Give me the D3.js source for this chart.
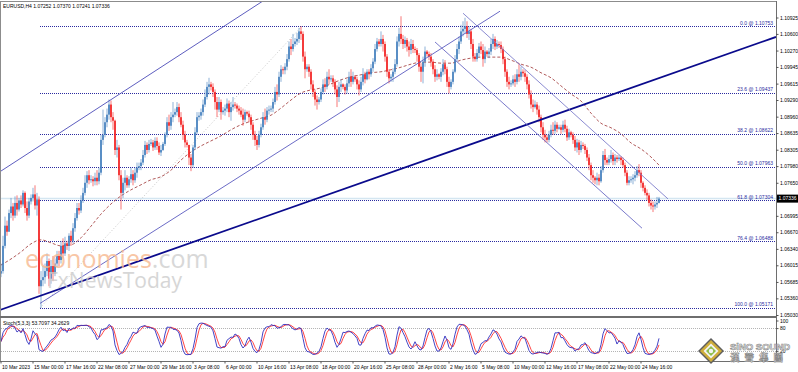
<!DOCTYPE html>
<html>
<head>
<meta charset="utf-8">
<script src="https://cdn.jsdelivr.net/npm/d3@7"></script>
<style>
body { margin: 0; background: #fff; }
svg { display: block; font-family: "Liberation Sans", "DejaVu Sans", sans-serif; }
</style>
</head>
<body>
<svg id="chart" width="798" height="372"></svg>
<script>
/* SECTION: data */

// EURUSD H4, first bar 10 Mar 2023 08:00 ; open of each bar = previous close
var firstOpen = 1.0585;
var closes = [
  1.0590,1.0640,1.0680,1.0668,
  1.0705,1.0718,1.0700,1.0725,1.0712,1.0730,
  1.0722,1.0745,1.0715,1.0700,1.0728,1.0735,
  1.0742,1.0720,1.0732,1.0560,1.0572,1.0578,
  1.0590,1.0610,1.0575,1.0600,1.0585,1.0605,
  1.0620,1.0612,1.0640,1.0625,1.0645,1.0640,
  1.0660,1.0650,1.0675,1.0695,1.0715,1.0710,
  1.0730,1.0745,1.0765,1.0780,1.0770,1.0772,
  1.0768,1.0775,1.0768,1.0785,1.0850,1.0860,
  1.0885,1.0900,1.0920,1.0895,1.0888,1.0830,
  1.0835,1.0780,1.0745,1.0765,1.0775,1.0760,
  1.0772,1.0782,1.0770,1.0785,1.0795,1.0798,
  1.0805,1.0820,1.0840,1.0830,1.0842,1.0845,
  1.0835,1.0848,1.0838,1.0825,1.0830,1.0842,
  1.0860,1.0885,1.0878,1.0895,1.0900,1.0905,
  1.0915,1.0895,1.0880,1.0860,1.0845,1.0840,
  1.0815,1.0800,1.0835,1.0865,1.0895,1.0898,
  1.0905,1.0920,1.0935,1.0955,1.0960,1.0955,
  1.0945,1.0925,1.0910,1.0925,1.0905,1.0908,
  1.0912,1.0922,1.0905,1.0915,1.0920,1.0918,
  1.0912,1.0908,1.0900,1.0890,1.0905,1.0902,
  1.0895,1.0880,1.0860,1.0850,1.0840,1.0860,
  1.0875,1.0895,1.0890,1.0908,1.0910,1.0912,
  1.0925,1.0945,1.0940,1.0975,1.0990,1.0988,
  1.0995,1.1010,1.1035,1.1030,1.1040,1.1045,
  1.1050,1.1065,1.1060,1.1015,1.0990,1.0995,
  1.0985,1.0960,1.0945,1.0930,1.0925,1.0930,
  1.0945,1.0960,1.0955,1.0975,1.0970,1.0972,
  1.0965,1.0950,1.0935,1.0955,1.0960,1.0955,
  1.0948,1.0962,1.0975,1.0965,1.0975,1.0970,
  1.0960,1.0950,1.0965,1.0980,1.0970,1.0985,
  1.0980,1.0992,1.1005,1.1030,1.1045,1.1040,
  1.1050,1.1040,1.1015,1.0985,1.0972,1.0975,
  1.0985,1.1000,1.1045,1.1060,1.1050,1.1040,
  1.1048,1.1035,1.1028,1.1040,1.1030,1.1028,
  1.1018,1.0995,1.0985,1.1005,1.1025,1.1020,
  1.1015,1.1005,1.0990,1.0975,1.0980,1.0975,
  1.0985,1.1000,1.0990,1.0965,1.0955,1.0965,
  1.0985,1.1010,1.1030,1.1045,1.1065,1.1070,
  1.1075,1.1060,1.1065,1.1040,1.1015,1.1010,
  1.1022,1.1035,1.1028,1.1010,1.1025,1.1020,
  1.1025,1.1040,1.1050,1.1035,1.1040,1.1038,
  1.1030,1.1010,1.0985,1.0965,1.0960,1.0962,
  1.0970,1.0965,1.0980,1.0975,1.0985,1.0982,
  1.0975,1.0960,1.0940,1.0920,1.0915,1.0920,
  1.0910,1.0895,1.0875,1.0860,1.0855,1.0850,
  1.0860,1.0870,1.0868,1.0880,1.0872,1.0875,
  1.0870,1.0880,1.0872,1.0855,1.0865,1.0860,
  1.0850,1.0835,1.0845,1.0830,1.0840,1.0838,
  1.0830,1.0815,1.0800,1.0780,1.0775,1.0770,
  1.0775,1.0768,1.0790,1.0820,1.0810,1.0805,
  1.0812,1.0820,1.0808,1.0815,1.0812,1.0815,
  1.0810,1.0800,1.0785,1.0765,1.0770,1.0772,
  1.0775,1.0780,1.0790,1.0785,1.0765,1.0755,
  1.0745,1.0740,1.0725,1.0720,1.0718,1.0722,
  1.07252,1.07336
];
var highs = [
  1.0605,1.0660,1.0698,1.0690,
  1.0712,1.0735,1.0725,1.0738,1.0740,1.0735,
  1.0740,1.0750,1.0748,1.0728,1.0735,1.0742,
  1.0755,1.0760,1.0745,1.0738,1.0590,1.0600,
  1.0605,1.0625,1.0615,1.0612,1.0620,1.0615,
  1.0630,1.0630,1.0650,1.0655,1.0658,1.0650,
  1.0665,1.0670,1.0685,1.0705,1.0725,1.0725,
  1.0740,1.0755,1.0780,1.0788,1.0790,1.0780,
  1.0778,1.0785,1.0790,1.0795,1.0860,1.0910,
  1.0895,1.0912,1.0930,1.0928,1.0905,1.0890,
  1.0850,1.0840,1.0790,1.0775,1.0790,1.0780,
  1.0778,1.0795,1.0790,1.0795,1.0805,1.0805,
  1.0812,1.0830,1.0848,1.0845,1.0850,1.0852,
  1.0850,1.0855,1.0855,1.0845,1.0840,1.0846,
  1.0865,1.0895,1.0900,1.0905,1.0925,1.0912,
  1.0925,1.0922,1.0905,1.0888,1.0868,1.0850,
  1.0835,1.0822,1.0840,1.0875,1.0905,1.0905,
  1.0912,1.0930,1.0950,1.0965,1.0973,1.0965,
  1.0962,1.0950,1.0935,1.0935,1.0930,1.0915,
  1.0920,1.0932,1.0928,1.0925,1.0935,1.0925,
  1.0922,1.0918,1.0915,1.0912,1.0910,1.0908,
  1.0908,1.0900,1.0885,1.0868,1.0858,1.0868,
  1.0882,1.0905,1.0912,1.0915,1.0918,1.0918,
  1.0932,1.0955,1.0960,1.0985,1.0998,1.0995,
  1.1002,1.1020,1.1045,1.1050,1.1060,1.1052,
  1.1062,1.1072,1.1075,1.1065,1.1025,1.1000,
  1.1000,1.0990,1.0968,1.0950,1.0938,1.0935,
  1.0952,1.0970,1.0972,1.0985,1.0990,1.0978,
  1.0978,1.0970,1.0958,1.0965,1.0970,1.0962,
  1.0960,1.0970,1.0985,1.0990,1.0985,1.0978,
  1.0975,1.0968,1.0975,1.0992,1.0985,1.0990,
  1.0990,1.1000,1.1012,1.1040,1.1052,1.1050,
  1.1065,1.1058,1.1045,1.1020,1.0990,1.0980,
  1.0992,1.1010,1.1055,1.1072,1.1095,1.1058,
  1.1055,1.1052,1.1045,1.1050,1.1048,1.1035,
  1.1032,1.1022,1.1002,1.1015,1.1035,1.1028,
  1.1025,1.1022,1.1010,1.0998,1.0990,1.0982,
  1.0992,1.1010,1.1008,1.0995,1.0975,1.0970,
  1.0990,1.1018,1.1040,1.1055,1.1078,1.1085,
  1.1092,1.1085,1.1075,1.1070,1.1050,1.1022,
  1.1030,1.1042,1.1045,1.1040,1.1035,1.1028,
  1.1032,1.1050,1.1060,1.1055,1.1048,1.1045,
  1.1045,1.1035,1.1015,1.0990,1.0975,1.0968,
  1.0978,1.0980,1.0990,1.1002,1.0995,1.0990,
  1.0988,1.0980,1.0968,1.0948,1.0930,1.0928,
  1.0925,1.0918,1.0900,1.0885,1.0870,1.0860,
  1.0868,1.0880,1.0885,1.0888,1.0885,1.0880,
  1.0880,1.0888,1.0890,1.0878,1.0872,1.0868,
  1.0865,1.0858,1.0852,1.0850,1.0848,1.0845,
  1.0842,1.0835,1.0822,1.0805,1.0790,1.0778,
  1.0785,1.0782,1.0798,1.0828,1.0832,1.0815,
  1.0820,1.0830,1.0825,1.0822,1.0820,1.0820,
  1.0818,1.0815,1.0805,1.0790,1.0778,1.0778,
  1.0782,1.0788,1.0798,1.0802,1.0790,1.0768,
  1.0760,1.0752,1.0745,1.0732,1.0728,1.0728,
  1.0737,1.07370
];
var lows = [
  1.0578,1.0585,1.0635,1.0660,
  1.0668,1.0695,1.0690,1.0695,1.0700,1.0708,
  1.0715,1.0718,1.0705,1.0690,1.0695,1.0722,
  1.0728,1.0712,1.0700,1.0545,1.0517,1.0560,
  1.0565,1.0580,1.0560,1.0565,1.0570,1.0580,
  1.0598,1.0600,1.0605,1.0615,1.0620,1.0632,
  1.0630,1.0640,1.0645,1.0668,1.0690,1.0702,
  1.0705,1.0725,1.0740,1.0755,1.0762,1.0765,
  1.0758,1.0760,1.0760,1.0762,1.0780,1.0840,
  1.0855,1.0875,1.0890,1.0885,1.0870,1.0820,
  1.0815,1.0770,1.0712,1.0735,1.0750,1.0755,
  1.0755,1.0765,1.0760,1.0765,1.0775,1.0790,
  1.0790,1.0800,1.0815,1.0822,1.0825,1.0838,
  1.0828,1.0830,1.0830,1.0820,1.0818,1.0828,
  1.0838,1.0855,1.0868,1.0870,1.0885,1.0895,
  1.0898,1.0885,1.0875,1.0850,1.0835,1.0835,
  1.0800,1.0788,1.0795,1.0830,1.0860,1.0888,
  1.0890,1.0898,1.0915,1.0930,1.0940,1.0948,
  1.0935,1.0910,1.0895,1.0905,1.0890,1.0900,
  1.0898,1.0905,1.0895,1.0888,1.0908,1.0912,
  1.0905,1.0900,1.0895,1.0878,1.0885,1.0898,
  1.0885,1.0870,1.0850,1.0838,1.0830,1.0835,
  1.0855,1.0870,1.0880,1.0885,1.0900,1.0905,
  1.0905,1.0920,1.0928,1.0935,1.0965,1.0980,
  1.0980,1.0988,1.1005,1.1018,1.1025,1.1035,
  1.1038,1.1042,1.1048,1.1005,1.0972,1.0985,
  1.0975,1.0950,1.0935,1.0918,1.0910,1.0920,
  1.0925,1.0940,1.0945,1.0950,1.0960,1.0965,
  1.0955,1.0940,1.0915,1.0925,1.0945,1.0950,
  1.0940,1.0942,1.0955,1.0955,1.0960,1.0965,
  1.0950,1.0938,1.0945,1.0958,1.0962,1.0968,
  1.0970,1.0975,1.0985,1.1000,1.1025,1.1035,
  1.1035,1.1025,1.1005,1.0975,1.0962,1.0965,
  1.0965,1.0980,1.0995,1.1035,1.1040,1.1030,
  1.1032,1.1025,1.1015,1.1020,1.1022,1.1022,
  1.1005,1.0985,1.0965,1.0962,1.0995,1.1015,
  1.1008,1.0995,1.0980,1.0965,1.0968,1.0970,
  1.0965,1.0978,1.0980,1.0955,1.0942,1.0950,
  1.0960,1.0982,1.1005,1.1020,1.1040,1.1055,
  1.1060,1.1052,1.1048,1.1030,1.1005,1.1005,
  1.1005,1.1015,1.1020,1.0995,1.1002,1.1015,
  1.1012,1.1018,1.1030,1.1028,1.1030,1.1032,
  1.1022,1.1000,1.0975,1.0955,1.0950,1.0955,
  1.0958,1.0955,1.0960,1.0965,1.0968,1.0975,
  1.0965,1.0950,1.0932,1.0912,1.0905,1.0912,
  1.0900,1.0885,1.0865,1.0850,1.0845,1.0845,
  1.0845,1.0855,1.0860,1.0862,1.0865,1.0870,
  1.0862,1.0865,1.0865,1.0848,1.0850,1.0855,
  1.0842,1.0828,1.0825,1.0820,1.0825,1.0832,
  1.0822,1.0808,1.0790,1.0770,1.0765,1.0762,
  1.0760,1.0760,1.0765,1.0785,1.0800,1.0800,
  1.0800,1.0805,1.0800,1.0800,1.0805,1.0808,
  1.0800,1.0795,1.0778,1.0760,1.0760,1.0765,
  1.0762,1.0768,1.0775,1.0778,1.0755,1.0748,
  1.0740,1.0730,1.0718,1.0712,1.0707,1.0712,
  1.0715,1.07241
];

// moving average, read every 5 bars (last one at the last bar)
var maBars = [0,5,10,15,20,25,30,35,40,45,50,55,60,65,70,75,80,85,90,95,100,105,110,115,120,125,130,135,140,145,
  150,155,160,165,170,175,180,185,190,195,200,205,210,215,220,225,230,235,240,245,250,255,260,265,270,275,280,285,
  290,295,300,305,310,315,320,325,329];
var maValues = [1.0602,1.0614,1.0628,1.0644,1.0652,1.0646,1.0640,1.0642,1.0656,1.0679,1.0703,1.0723,1.0739,1.0751,
  1.0761,1.0771,1.0777,1.0790,1.0810,1.0826,1.0838,1.0848,1.0858,1.0870,1.0880,1.0887,1.0893,1.0899,1.0913,1.0929,
  1.0943,1.0949,1.0953,1.0961,1.0969,1.0975,1.0979,1.0983,1.0985,1.0989,1.0994,1.1000,1.1004,1.1004,1.1002,1.1002,
  1.1008,1.1012,1.1014,1.1014,1.1014,1.1008,1.1000,1.0994,1.0983,1.0973,1.0957,1.0941,1.0927,1.0903,1.0883,1.0874,
  1.0862,1.0844,1.0832,1.0816,1.0800];

// fibonacci retracement drawn from the 15 Mar low to the 14 Apr high
var fibLowBar = 19.5, fibHighBar = 150.5;
var fibLevels = ["0.0", "23.6", "38.2", "50.0", "61.8", "76.4", "100.0"];
var fibPrices = [1.10753, 1.09437, 1.08622, 1.07963, 1.07304, 1.06488, 1.05171];

// trend lines: [bar, price] -> [bar, price]
var trendFrom = [[-0.5, 1.0787], [19.5, 1.0526], [-0.5, 1.0513], [231, 1.1101], [217, 1.1044]];
var trendTo   = [[130.5, 1.1124], [249.5, 1.1105], [387.5, 1.1054], [333.5, 1.0733], [320.5, 1.0675]];

// axes
var priceTicks = [1.10925,1.10600,1.10270,1.09945,1.09615,1.09290,1.08960,1.08635,1.08305,1.07980,1.07650,
  1.06995,1.06670,1.06340,1.06015,1.05685,1.05360,1.05030];
var timeBars = [0,16,32,48,64,80,96,112,128,144,160,176,192,208,224,240,256,272,288,304,320];
var timeLabels = ["10 Mar 2023","15 Mar 00:00","17 Mar 16:00","22 Mar 08:00","27 Mar 00:00","29 Mar 16:00",
  "3 Apr 08:00","6 Apr 00:00","10 Apr 16:00","13 Apr 08:00","18 Apr 00:00","20 Apr 16:00","25 Apr 08:00",
  "28 Apr 00:00","2 May 16:00","5 May 08:00","10 May 00:00","12 May 16:00","17 May 08:00","22 May 00:00",
  "24 May 16:00"];
var stochTicks = [100, 80, 20, 0];
var stochLevels = [80, 20];

/* SECTION: layout */

var svg = d3.select("#chart");
var plotL = 1, plotR = 776, mainT = 2, mainB = 316, stT = 318, stB = 361;
var fs = 5;

var x = d3.scaleLinear().domain([0, 387.5]).range([1, 776]);
var y = d3.scaleLinear().domain([1.05030, 1.10925]).range([315, 17.5]);
var ys = d3.scaleLinear().domain([0, 100]).range([358.5, 320.5]);

var n = closes.length;
var opens = [firstOpen].concat(closes.slice(0, n - 1));

svg.append("rect").attr("width", 798).attr("height", 372).attr("fill", "#fff");

svg.append("clipPath").attr("id", "clipMain").append("rect")
  .attr("x", plotL).attr("y", mainT).attr("width", plotR - plotL).attr("height", mainB - mainT);
svg.append("clipPath").attr("id", "clipStoch").append("rect")
  .attr("x", plotL).attr("y", stT).attr("width", plotR - plotL).attr("height", stB - stT);

var main = svg.append("g").attr("clip-path", "url(#clipMain)");

// bid line
main.append("line")
  .attr("x1", plotL).attr("x2", plotR)
  .attr("y1", y(closes[n - 1])).attr("y2", y(closes[n - 1]))
  .attr("stroke", "#d4e6f1").attr("stroke-width", 1.5);

// fib levels
main.append("line")
  .attr("x1", x(fibLowBar)).attr("y1", y(fibPrices[fibPrices.length - 1]))
  .attr("x2", x(fibHighBar)).attr("y2", y(fibPrices[0]))
  .attr("stroke", "#c8c8c8").attr("stroke-dasharray", "1,2");
main.selectAll("line.fib").data(fibPrices).enter().append("line")
  .attr("class", "fib")
  .attr("x1", x(fibLowBar)).attr("x2", plotR)
  .attr("y1", function(d) { return Math.round(y(d)) + 0.5; })
  .attr("y2", function(d) { return Math.round(y(d)) + 0.5; })
  .attr("stroke", "#2a2aa0").attr("stroke-dasharray", "1,1");

// moving average
var maLine = d3.line()
  .x(function(d, i) { return x(maBars[i]); })
  .y(function(d) { return y(d); })
  .curve(d3.curveMonotoneX);
main.append("path").datum(maValues)
  .attr("d", maLine).attr("fill", "none")
  .attr("stroke", "#a84848").attr("stroke-width", 0.9).attr("stroke-dasharray", "3,2");

// candles
var bars = d3.range(n);
var cand = main.append("g").selectAll("g").data(bars).enter().append("g");
var col = function(i) { return closes[i] >= opens[i] ? "#3f7cbc" : "#f21c1c"; };
cand.append("line")
  .attr("x1", function(i) { return x(i); }).attr("x2", function(i) { return x(i); })
  .attr("y1", function(i) { return y(Math.max(highs[i], opens[i], closes[i])); })
  .attr("y2", function(i) { return y(Math.min(lows[i], opens[i], closes[i])); })
  .attr("stroke", col).attr("stroke-width", 0.8).attr("stroke-opacity", 0.75);
cand.append("rect")
  .attr("x", function(i) { return x(i) - 0.8; })
  .attr("width", 1.6)
  .attr("y", function(i) { return y(Math.max(opens[i], closes[i])); })
  .attr("height", function(i) { return Math.max(0.8, Math.abs(y(opens[i]) - y(closes[i]))); })
  .attr("fill", col);

// trend lines
var trendStyle = [
  {c: "#4b4bb8", w: 0.9}, {c: "#5a5ac0", w: 0.9}, {c: "#0a0a8c", w: 1.8},
  {c: "#7e7ecc", w: 0.9}, {c: "#6a6ac4", w: 0.9}
];
main.selectAll("line.trend").data(trendFrom).enter().append("line")
  .attr("class", "trend")
  .attr("x1", function(d) { return x(d[0]); }).attr("y1", function(d) { return y(d[1]); })
  .attr("x2", function(d, i) { return x(trendTo[i][0]); }).attr("y2", function(d, i) { return y(trendTo[i][1]); })
  .attr("stroke", function(d, i) { return trendStyle[i].c; })
  .attr("stroke-width", function(d, i) { return trendStyle[i].w; });

// watermark
var wm = main.append("g").attr("opacity", 0.8);
var t1 = wm.append("text").attr("x", 25).attr("y", 268)
  .attr("font-family", "'Open Sans', 'Liberation Sans', sans-serif").attr("font-size", 25);
t1.append("tspan").attr("fill", "#f7b990").text("economies");
t1.append("tspan").attr("fill", "#cfcfcf").text(".com");
wm.append("text").attr("x", 47).attr("y", 288)
  .attr("font-family", "'Open Sans', 'Liberation Sans', sans-serif").attr("font-size", 21)
  .attr("fill", "#cdcdcd").text("FxNewsToday");

// fib labels
main.selectAll("text.fib").data(fibPrices).enter().append("text")
  .attr("x", 773).attr("y", function(d) { return y(d) - 1.5; })
  .attr("text-anchor", "end").attr("font-size", fs).attr("fill", "#2a2aa0")
  .text(function(d, i) { return fibLevels[i] + " @ " + d.toFixed(5); });

// header
svg.append("text").attr("x", 3).attr("y", 7.5).attr("font-size", fs).attr("fill", "#000")
  .text("EURUSD,H4  1.07252 1.07370 1.07241 1.07336");

/* SECTION: stochastic (5,3,3) */

var kPer = 5, slowing = 3, dPer = 3;
var hh = bars.map(function(i) { return d3.max(highs.slice(Math.max(0, i - kPer + 1), i + 1)); });
var ll = bars.map(function(i) { return d3.min(lows.slice(Math.max(0, i - kPer + 1), i + 1)); });
var kLine = bars.map(function(i) {
  var num = 0, den = 0;
  for (var j = Math.max(0, i - slowing + 1); j <= i; j++) { num += closes[j] - ll[j]; den += hh[j] - ll[j]; }
  return den === 0 ? 100 : 100 * num / den;
});
var dLine = bars.map(function(i) { return d3.mean(kLine.slice(Math.max(0, i - dPer + 1), i + 1)); });

var st = svg.append("g").attr("clip-path", "url(#clipStoch)");
st.selectAll("line.lvl").data(stochLevels).enter().append("line")
  .attr("x1", plotL).attr("x2", plotR)
  .attr("y1", function(d) { return Math.round(ys(d)) + 0.5; })
  .attr("y2", function(d) { return Math.round(ys(d)) + 0.5; })
  .attr("stroke", "#b4b4b4").attr("stroke-dasharray", "1,1");
var sl = d3.line().x(function(d, i) { return x(i); }).y(function(d) { return ys(d); });
st.append("path").datum(dLine).attr("d", sl).attr("fill", "none").attr("stroke", "#ff3030").attr("stroke-width", 0.9);
st.append("path").datum(kLine).attr("d", sl).attr("fill", "none").attr("stroke", "#3030c0").attr("stroke-width", 0.9);
svg.append("text").attr("x", 3).attr("y", 324.5).attr("font-size", fs).attr("fill", "#000")
  .text("Stoch(5,3,3) 53.7097 34.2629");

/* SECTION: frame and axes */

svg.append("line").attr("x1", 0).attr("x2", plotR).attr("y1", 1.5).attr("y2", 1.5).attr("stroke", "#8c8c8c");
svg.append("line").attr("x1", 0.5).attr("x2", 0.5).attr("y1", 1).attr("y2", stB).attr("stroke", "#8c8c8c");
svg.append("rect").attr("x", 0).attr("y", 316).attr("width", plotR + 1).attr("height", 2).attr("fill", "#6e6e6e");
svg.append("line").attr("x1", 0).attr("x2", plotR).attr("y1", stB + 0.5).attr("y2", stB + 0.5).attr("stroke", "#6e6e6e");
svg.append("line").attr("x1", plotR + 0.5).attr("x2", plotR + 0.5).attr("y1", 1).attr("y2", stB + 1).attr("stroke", "#6e6e6e");

var pAxis = svg.append("g").attr("transform", "translate(" + plotR + ",0)")
  .call(d3.axisRight(y).tickValues(priceTicks).tickFormat(d3.format(".5f")).tickSize(2.5).tickPadding(1.5));
pAxis.select(".domain").remove();
pAxis.selectAll("line").attr("stroke", "#555");
pAxis.selectAll("text").attr("font-size", fs).attr("font-family", null).attr("fill", "#000");

var sAxis = svg.append("g").attr("transform", "translate(" + plotR + ",0)")
  .call(d3.axisRight(ys).tickValues(stochTicks).tickSize(2.5).tickPadding(1.5));
sAxis.select(".domain").remove();
sAxis.selectAll("line").attr("stroke", "#555");
sAxis.selectAll("text").attr("font-size", fs).attr("font-family", null).attr("fill", "#000");

var tAxis = svg.append("g").attr("transform", "translate(0," + (stB + 0.5) + ")");
tAxis.selectAll("line").data(timeBars).enter().append("line")
  .attr("x1", function(d) { return x(d); }).attr("x2", function(d) { return x(d); })
  .attr("y1", 0).attr("y2", 2).attr("stroke", "#555");
tAxis.selectAll("text").data(timeBars).enter().append("text")
  .attr("x", function(d) { return x(d) + 1; }).attr("y", 7)
  .attr("font-size", fs).attr("fill", "#000")
  .text(function(d, i) { return timeLabels[i]; });

// current price marker
var yc = y(closes[n - 1]);
svg.append("rect").attr("x", plotR + 1).attr("y", yc - 4).attr("width", 21).attr("height", 8).attr("fill", "#000");
svg.append("text").attr("x", plotR + 2.5).attr("y", yc + 1.8).attr("font-size", fs).attr("fill", "#fff")
  .text(closes[n - 1].toFixed(5));

/* SECTION: logo */

var logo = svg.append("g");
var cx = 711, cy = 351;
[[13, "#5e5e5e"], [11, "#cfae3a"], [7.5, "#f4f4f4"], [5, "#8fbf4a"]].forEach(function(s) {
  logo.append("polygon")
    .attr("points", [[cx, cy - s[0]], [cx + s[0], cy], [cx, cy + s[0]], [cx - s[0], cy]].join(" "))
    .attr("fill", s[1]);
});
logo.append("circle").attr("cx", cx).attr("cy", cy).attr("r", 2.2).attr("fill", "#f4f4f4");
logo.append("text").attr("x", 730).attr("y", 349.5)
  .attr("font-size", 9.5).attr("font-weight", "bold").attr("fill", "#f6f6f6")
  .attr("stroke", "#8a8a8a").attr("stroke-width", 0.6).text("SiNO SOUND");
logo.append("text").attr("x", 730).attr("y", 361)
  .attr("font-family", "'Noto Sans CJK TC', sans-serif")
  .attr("font-size", 9.5).attr("font-weight", "bold").attr("fill", "#f6f6f6")
  .attr("stroke", "#8a8a8a").attr("stroke-width", 0.6).attr("letter-spacing", 5).text("漢聲集團");
</script>
</body>
</html>
